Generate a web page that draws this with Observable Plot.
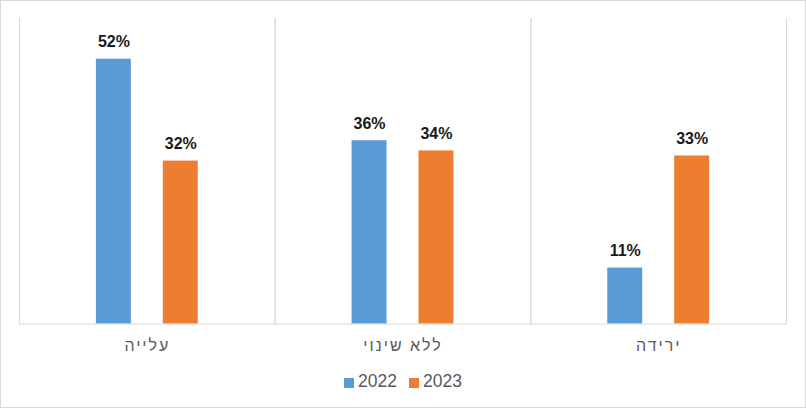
<!DOCTYPE html>
<html>
<head>
<meta charset="utf-8">
<script src="https://cdn.jsdelivr.net/npm/d3@7"></script>
<script src="https://cdn.jsdelivr.net/npm/@observablehq/plot@0.6"></script>
<style>
  body { margin: 0; background: #fff; }
  #wrap { position: relative; width: 806px; height: 408px; box-sizing: border-box; border: 1px solid #d9d9d9; background: #fff; overflow: hidden; font-family: "Liberation Sans", Arial, sans-serif; }
  #chart { position: absolute; left: -1px; top: -1px; }
  #chart g[aria-label="fx-axis tick label"] text { letter-spacing: 2px; }
  #legend { position: absolute; left: 0; right: 0; top: 370px; display: flex; justify-content: center; align-items: center; font-size: 17.5px; color: #595959; }
  .item { display: flex; align-items: center; margin: 0 6px; }
  .sw { width: 10px; height: 10px; margin-right: 4px; margin-top: 2px; }
</style>
</head>
<body>
<div id="wrap"><div id="chart"></div><div id="legend"></div></div>
<script>
const categories = ["עלייה", "ללא שינוי", "ירידה"];
const years = ["2022", "2023"];
const values2022 = [52, 36, 11];
const values2023 = [32, 34, 33];
const colors = ["#5B9BD5", "#ED7D31"];

const data = [];
categories.forEach((c, i) => {
  data.push({category: c, year: years[0], value: values2022[i]});
  data.push({category: c, year: years[1], value: values2023[i]});
});

const chart = Plot.plot({
  width: 806,
  height: 360,
  marginLeft: 19,
  marginRight: 19,
  marginTop: 18,
  marginBottom: 36,
  style: {fontFamily: "'Liberation Sans', Arial, sans-serif", background: "transparent"},
  fx: {domain: categories, padding: 0, label: null, axis: null},
  x: {domain: years, paddingInner: 0.478, paddingOuter: 1.149, axis: null},
  y: {domain: [0, 60], axis: null},
  color: {domain: years, range: colors},
  marks: [
    Plot.frame({anchor: "left", stroke: "#d9d9d9", strokeOpacity: 1}),
    Plot.frame({anchor: "right", stroke: "#d9d9d9", strokeOpacity: 1}),
    Plot.barY(data, {fx: "category", x: "year", y: "value", fill: "year"}),
    Plot.ruleY([0], {stroke: "#d9d9d9", strokeWidth: 1}),
    Plot.text(data, {fx: "category", x: "year", y: "value", text: d => d.value + "%", dy: -17, fontSize: 16, fontWeight: "bold", fill: "#1a1a1a"}),
    Plot.axisFx({anchor: "bottom", tickSize: 0, tickPadding: 16, fontSize: 16, label: null, color: "#595959"})
  ]
});
document.getElementById("chart").appendChild(chart);

const legend = document.getElementById("legend");
years.forEach((y, i) => {
  const it = document.createElement("div");
  it.className = "item";
  const sw = document.createElement("div");
  sw.className = "sw";
  sw.style.background = colors[i];
  const t = document.createElement("span");
  t.textContent = y;
  it.appendChild(sw);
  it.appendChild(t);
  legend.appendChild(it);
});
</script>
</body>
</html>
